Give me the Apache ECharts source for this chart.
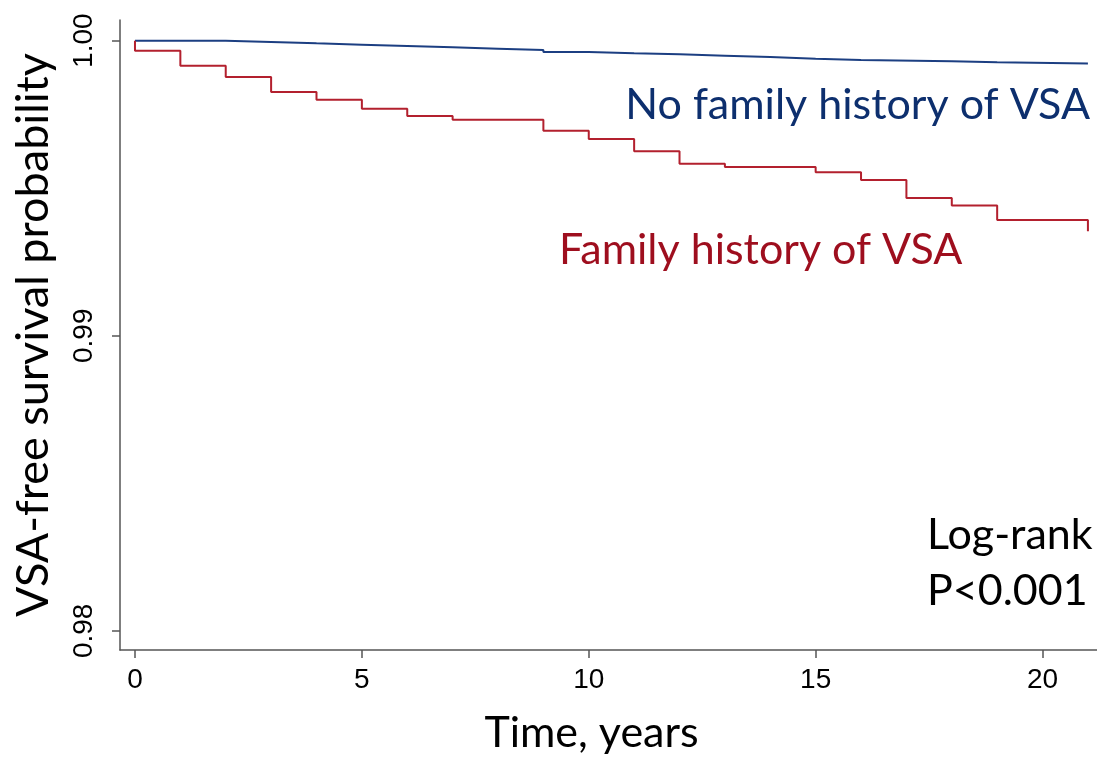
<!DOCTYPE html>
<html><head><meta charset="utf-8">
<script src="https://cdn.jsdelivr.net/npm/echarts@6/dist/echarts.min.js"></script>
<style>html,body{margin:0;padding:0;background:#fff}#c{width:1097px;height:758px}</style>
</head><body><div id="c"></div>
<script>
const xTicks = [0, 5, 10, 15, 20];
const yTicks = [0.98, 0.99, 1.00];
// Kaplan-Meier step points [time, survival]
const famTimes = [0, 0, 1, 2, 3, 4, 5, 6, 7, 9, 10, 11, 12, 13, 15, 16, 17, 18, 19, 21];
const famSurv  = [1.0, 0.99966, 0.99915, 0.99877, 0.99826, 0.99800, 0.99769, 0.99745, 0.99732, 0.99695, 0.99667, 0.99625, 0.99583, 0.99572, 0.99554, 0.99528, 0.99467, 0.99441, 0.99392, 0.99354];
const noTimes = [0, 2, 3, 4, 5, 6, 7, 8, 9, 10, 11, 12, 13, 14, 15, 16, 18, 19, 21];
const noSurv  = [1.0, 0.999956, 0.999908, 0.999864, 0.99982, 0.999773, 0.999729, 0.999685, 0.999617, 0.999571, 0.999536, 0.999492, 0.999447, 0.99939, 0.999346, 0.999298, 0.999264, 0.99923, 0.99923];

const chart = echarts.init(document.getElementById('c'));
const axisCol = '#555';
const tickFont = "'Liberation Sans Narrow', 'Liberation Sans', Arial, sans-serif";
chart.setOption({
  animation: false,
  grid: {left: 120, right: 0, top: 20, bottom: 108, outerBoundsMode: 'none', containLabel: false},
  xAxis: {
    type: 'value', min: -0.33, max: 21.2,
    name: 'Time, years', nameLocation: 'middle', nameGap: 62,
    nameTextStyle: {fontFamily: 'Lato', fontSize: 43, color: '#000', padding: [0, 34, 0, 0]},
    axisLine: {show: true, onZero: false, lineStyle: {color: axisCol, width: 1.5}},
    axisTick: {show: true, length: 8, lineStyle: {color: axisCol, width: 1.5}, customValues: xTicks},
    axisLabel: {show: true, customValues: xTicks, fontFamily: tickFont, fontSize: 28, color: '#000', margin: 16},
    splitLine: {show: false}
  },
  yAxis: {
    type: 'value', min: 0.97935, max: 1.0007,
    name: 'VSA-free survival probability', nameLocation: 'middle', nameGap: 64,
    nameTextStyle: {fontFamily: 'Lato', fontSize: 45, color: '#000'},
    axisLine: {show: true, onZero: false, lineStyle: {color: axisCol, width: 1.5}},
    axisTick: {show: true, length: 8, lineStyle: {color: axisCol, width: 1.5}, customValues: yTicks},
    axisLabel: {show: true, customValues: yTicks, rotate: 90, fontFamily: tickFont, fontSize: 28, color: '#000', margin: 22,
      formatter: v => v.toFixed(2)},
    splitLine: {show: false}
  },
  series: [
    {type: 'line', step: 'end', symbol: 'none', data: noTimes.map((t, i) => [t, noSurv[i]]),
      lineStyle: {color: '#1c3f82', width: 2}},
    {type: 'line', step: 'end', symbol: 'none', data: famTimes.map((t, i) => [t, famSurv[i]]),
      lineStyle: {color: '#b3202e', width: 2}}
  ],
  graphic: [
    {type: 'text', right: 7, top: 84, style: {text: 'No family history of VSA', fontFamily: 'Lato', fontSize: 43, fill: '#0d2f6e'}},
    {type: 'text', left: 559, top: 229, style: {text: 'Family history of VSA', fontFamily: 'Lato', fontSize: 43, fill: '#9e0e1e'}},
    {type: 'text', left: 927, top: 514, style: {text: 'Log-rank', fontFamily: 'Lato', fontSize: 43, fill: '#000'}},
    {type: 'text', left: 927, top: 570, style: {text: 'P<0.001', fontFamily: 'Lato', fontSize: 43, fill: '#000'}}
  ]
});
</script></body></html>
